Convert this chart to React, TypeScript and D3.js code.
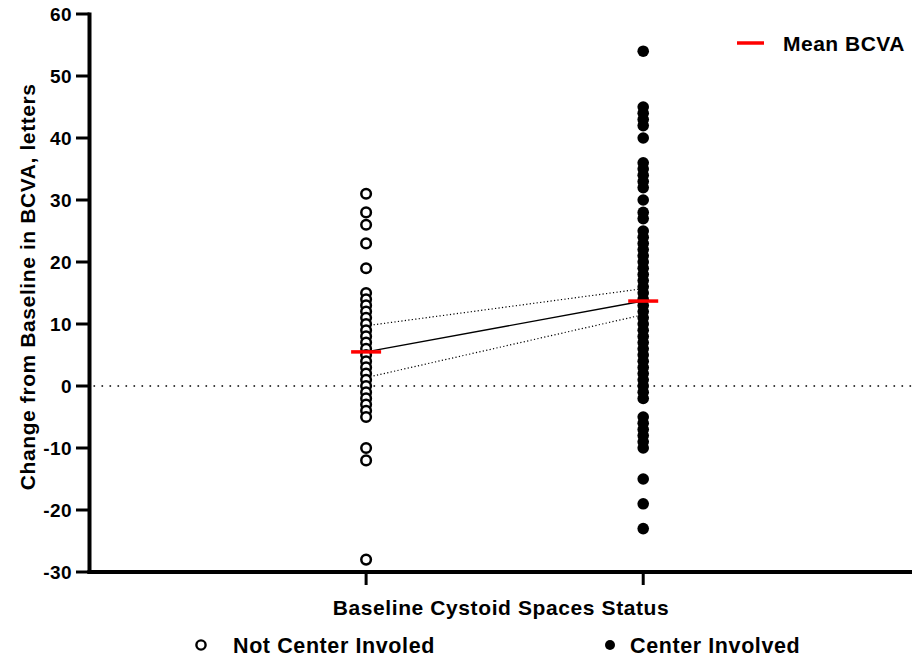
import React from "react";
import * as d3 from "d3";

// Change from baseline in BCVA (letters) per eye, by baseline cystoid spaces status
const groups = ["Not Center Involed", "Center Involved"];
const notCenterValues = [
  31, 28, 26, 23, 19, 15, 14, 13, 12, 11, 10, 9, 8, 7, 6, 5, 4, 3, 2, 1, 0,
  -1, -2, -3, -4, -5, -10, -12, -28,
];
const centerValues = [
  54, 45, 44, 43, 42, 40, 36, 35, 34, 33, 32, 30, 28, 27, 25, 24, 23, 22, 21,
  20, 19, 18, 17, 16, 15, 14, 13, 12, 11, 10, 9, 8, 7, 6, 5, 4, 3, 2, 1, 0, -1,
  -2, -5, -6, -7, -8, -9, -10, -15, -19, -23,
];
// Mean and confidence band per group
const means = [5.5, 13.7];
const ciUpper = [9.8, 15.7];
const ciLower = [1.5, 11.5];
const yTicks = [-30, -20, -10, 0, 10, 20, 30, 40, 50, 60];

const W = 913;
const H = 657;
const FONT = "'Liberation Sans', Arial, sans-serif";

export default function App() {
  const y = d3.scaleLinear().domain([-30, 60]).range([572, 14]);
  const x = d3.scaleLinear().domain([0, 2.97]).range([89, 912]);
  const groupX = [x(1), x(2)];
  const r = 5.8;
  const axisX = 89.5;

  const line = d3
    .line<[number, number]>()
    .x((d) => d[0])
    .y((d) => d[1]);

  return (
    <svg
      width={W}
      height={H}
      style={{ position: "absolute", left: 0, top: 0 }}
      fontFamily={FONT}
    >
      <rect width={W} height={H} fill="#fff" />

      {/* zero reference line */}
      <line
        x1={axisX + 4}
        x2={912}
        y1={y(0)}
        y2={y(0)}
        stroke="#000"
        strokeWidth={1.3}
        strokeDasharray="1.6 6.4"
      />

      {/* confidence band edges */}
      <path
        d={line([
          [groupX[0] + 4, y(ciUpper[0])],
          [groupX[1], y(ciUpper[1])],
        ])!}
        stroke="#000"
        strokeWidth={1.2}
        strokeDasharray="1.2 2.3"
        fill="none"
      />
      <path
        d={line([
          [groupX[0] + 4, y(ciLower[0])],
          [groupX[1], y(ciLower[1])],
        ])!}
        stroke="#000"
        strokeWidth={1.2}
        strokeDasharray="1.2 2.3"
        fill="none"
      />

      {/* not center involved: open circles */}
      {notCenterValues.map((v, i) => (
        <circle
          key={"n" + i}
          cx={groupX[0]}
          cy={y(v)}
          r={r - 1}
          fill="#fff"
          stroke="#000"
          strokeWidth={2.5}
        />
      ))}

      {/* center involved: filled dots */}
      {centerValues.map((v, i) => (
        <circle key={"c" + i} cx={groupX[1]} cy={y(v)} r={r} fill="#000" />
      ))}

      {/* line joining the group means */}
      <path
        d={line([
          [groupX[0], y(means[0])],
          [groupX[1], y(means[1])],
        ])!}
        stroke="#000"
        strokeWidth={1.4}
        fill="none"
      />

      {/* group means */}
      {means.map((m, i) => (
        <line
          key={"m" + i}
          x1={groupX[i] - 15}
          x2={groupX[i] + 15}
          y1={y(m)}
          y2={y(m)}
          stroke="#ff0000"
          strokeWidth={3.5}
        />
      ))}

      {/* y axis */}
      <line x1={axisX} x2={axisX} y1={y(60) - 1.5} y2={y(-30) + 2} stroke="#000" strokeWidth={4} />
      {yTicks.map((t) => (
        <g key={t}>
          <line x1={76} x2={axisX} y1={y(t)} y2={y(t)} stroke="#000" strokeWidth={3} />
          <text
            x={72}
            y={y(t)}
            dy="0.36em"
            textAnchor="end"
            fontSize={19}
            fontWeight="bold"
            letterSpacing={0.4}
          >
            {t}
          </text>
        </g>
      ))}

      {/* x axis */}
      <line x1={axisX - 2} x2={912} y1={y(-30)} y2={y(-30)} stroke="#000" strokeWidth={4} />
      {groupX.map((gx, i) => (
        <line key={"xt" + i} x1={gx} x2={gx} y1={y(-30)} y2={y(-30) + 13} stroke="#000" strokeWidth={3} />
      ))}

      <text
        x={501}
        y={615}
        textAnchor="middle"
        fontSize={21}
        fontWeight="bold"
        letterSpacing={0.6}
      >
        Baseline Cystoid Spaces Status
      </text>

      <text
        transform={`translate(35, ${y(16)}) rotate(-90)`}
        textAnchor="middle"
        fontSize={21}
        fontWeight="bold"
        letterSpacing={0.6}
      >
        Change from Baseline in BCVA, letters
      </text>

      {/* bottom legend */}
      <circle cx={201} cy={645} r={4.6} fill="#fff" stroke="#000" strokeWidth={2.4} />
      <text x={233} y={653} fontSize={21.5} fontWeight="bold" letterSpacing={0.6}>
        {groups[0]}
      </text>
      <circle cx={610} cy={645} r={5} fill="#000" />
      <text x={630} y={653} fontSize={21.5} fontWeight="bold" letterSpacing={0.6}>
        {groups[1]}
      </text>

      {/* top-right legend */}
      <line x1={737} x2={764} y1={43} y2={43} stroke="#ff0000" strokeWidth={3.5} />
      <text x={783} y={50.5} fontSize={21} fontWeight="bold" letterSpacing={0.5}>
        Mean BCVA
      </text>
    </svg>
  );
}
